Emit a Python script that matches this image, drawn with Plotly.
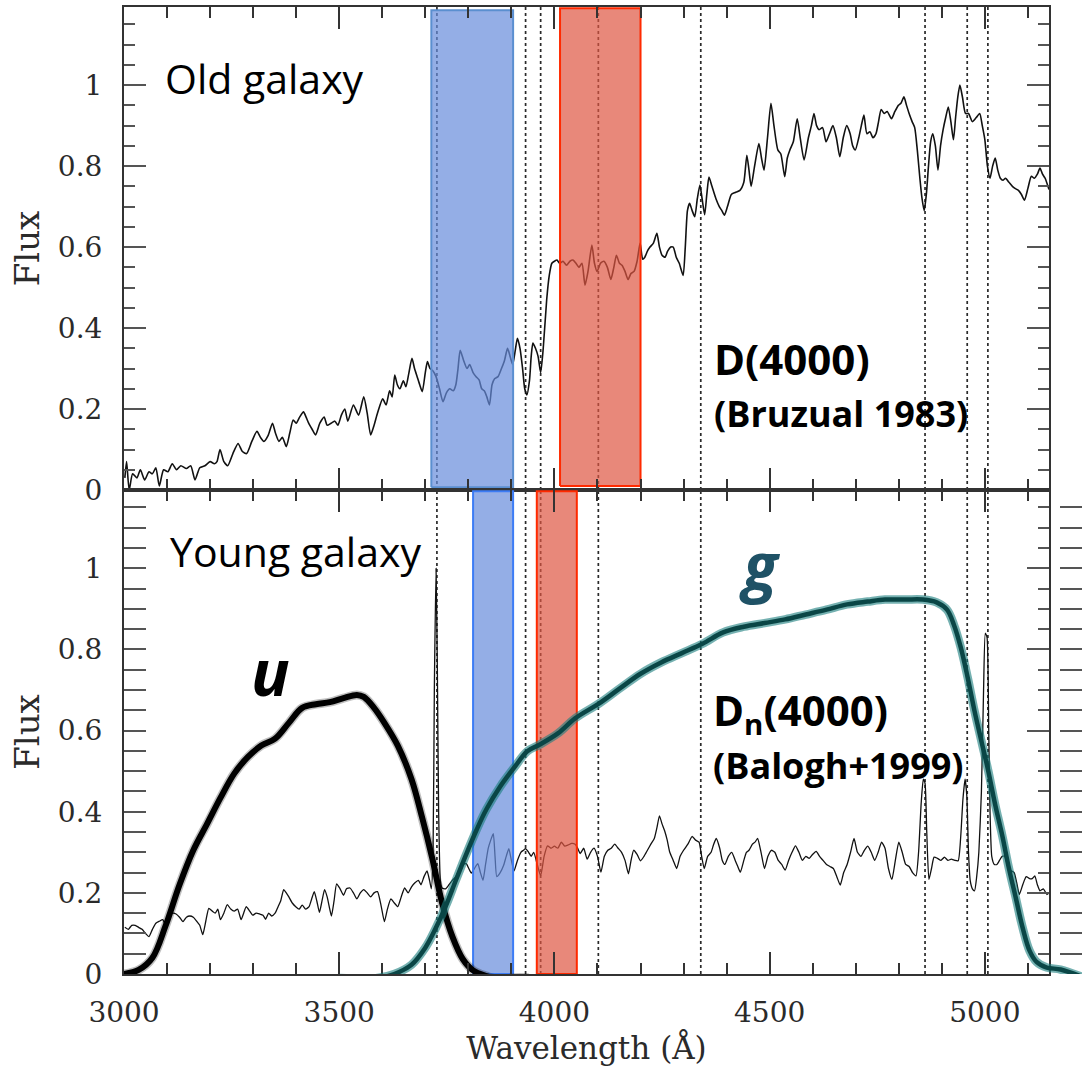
import plotly.graph_objects as go

# ---------------------------------------------------------------- data
# Old (passive) galaxy spectrum: wavelength [A], normalised flux
OLD_WAVE = [3002, 3006, 3012, 3020, 3030, 3038, 3048, 3058, 3066, 3074, 3082, 3092, 3102, 3112, 3122, 3132,
            3145, 3155, 3165, 3176, 3188, 3200, 3210, 3216, 3223, 3232, 3241, 3253, 3265, 3275, 3285, 3297,
            3309, 3317, 3325, 3335, 3345, 3352, 3360, 3368, 3377, 3385, 3393, 3400, 3408, 3417, 3423, 3429,
            3437, 3445, 3455, 3465, 3472, 3481, 3490, 3497, 3505, 3513, 3520, 3533, 3545, 3557, 3565, 3573,
            3581, 3589, 3601, 3609, 3617, 3623, 3629, 3635, 3641, 3649, 3655, 3662, 3669, 3675, 3681, 3687,
            3693, 3700, 3705, 3711, 3717, 3725, 3733, 3741, 3749, 3757, 3765, 3771, 3776, 3781, 3789, 3797,
            3803, 3811, 3818, 3825, 3831, 3837, 3843, 3849, 3855, 3861, 3869, 3877, 3884, 3891, 3897, 3903,
            3909, 3914, 3920, 3926, 3931, 3936, 3942, 3946, 3950, 3956, 3962, 3968, 3974, 3982, 3988, 3994,
            4000, 4006, 4012, 4020, 4028, 4036, 4043, 4050, 4057, 4064, 4071, 4078, 4087, 4093, 4099, 4107,
            4115, 4123, 4131, 4138, 4144, 4151, 4157, 4164, 4171, 4178, 4185, 4192, 4199, 4205, 4210, 4216,
            4222, 4230, 4238, 4244, 4250, 4257, 4263, 4270, 4276, 4283, 4290, 4299, 4304, 4309, 4314, 4320,
            4326, 4332, 4338, 4343, 4349, 4354, 4359, 4366, 4375, 4383, 4389, 4395, 4402, 4411, 4420, 4431,
            4440, 4447, 4452, 4457, 4465, 4475, 4481, 4487, 4495, 4503, 4510, 4519, 4526, 4535, 4541, 4547,
            4555, 4564, 4571, 4580, 4590, 4597, 4603, 4609, 4615, 4623, 4631, 4639, 4647, 4655, 4663, 4671,
            4679, 4687, 4693, 4699, 4707, 4713, 4719, 4726, 4733, 4740, 4747, 4753, 4759, 4766, 4773, 4783,
            4791, 4799, 4805, 4812, 4818, 4824, 4831, 4837, 4843, 4849, 4854, 4859, 4864, 4869, 4874, 4879,
            4885, 4891, 4897, 4903, 4909, 4915, 4921, 4927, 4932, 4937, 4942, 4948, 4955, 4962, 4971, 4980,
            4988, 4994, 5000, 5006, 5012, 5018, 5024, 5030, 5036, 5042, 5048, 5056, 5064, 5070, 5078, 5085,
            5092, 5100, 5108, 5115, 5122, 5128, 5134, 5140, 5149]
OLD_FLUX = [0.03, 0.07, 0.0, 0.04, 0.03, 0.05, 0.025, 0.045, 0.04, 0.055, 0.01, 0.05, 0.045, 0.065, 0.05, 0.06,
            0.053, 0.06, 0.025, 0.055, 0.06, 0.07, 0.065, 0.07, 0.10, 0.07, 0.06, 0.09, 0.115, 0.095, 0.09, 0.12,
            0.145, 0.13, 0.12, 0.135, 0.165, 0.14, 0.12, 0.13, 0.107, 0.14, 0.173, 0.165, 0.18, 0.193, 0.18, 0.165,
            0.15, 0.136, 0.165, 0.18, 0.16, 0.165, 0.17, 0.16, 0.185, 0.2, 0.17, 0.21, 0.185, 0.23, 0.19, 0.136,
            0.16, 0.19, 0.225, 0.21, 0.245, 0.23, 0.284, 0.26, 0.25, 0.27, 0.255, 0.29, 0.325, 0.3, 0.28, 0.26,
            0.243, 0.29, 0.317, 0.3, 0.295, 0.28, 0.25, 0.218, 0.24, 0.25, 0.245, 0.26, 0.3, 0.345, 0.32, 0.3,
            0.31, 0.29, 0.28, 0.272, 0.25, 0.245, 0.23, 0.21, 0.26, 0.275, 0.28, 0.3, 0.32, 0.35, 0.33, 0.31,
            0.345, 0.375, 0.35, 0.3, 0.25, 0.235, 0.27, 0.33, 0.363, 0.35, 0.33, 0.29, 0.35, 0.47, 0.53, 0.56,
            0.565, 0.568, 0.56, 0.565, 0.555, 0.565, 0.568, 0.56, 0.55, 0.56, 0.506, 0.54, 0.605, 0.56, 0.54, 0.56,
            0.565, 0.55, 0.52, 0.55, 0.58, 0.56, 0.555, 0.54, 0.52, 0.535, 0.54, 0.565, 0.61, 0.57, 0.575, 0.59,
            0.6, 0.61, 0.634, 0.6, 0.58, 0.575, 0.59, 0.6, 0.6, 0.575, 0.56, 0.53, 0.6, 0.69, 0.708, 0.69,
            0.675, 0.72, 0.753, 0.72, 0.68, 0.73, 0.773, 0.75, 0.72, 0.7, 0.69, 0.679, 0.7, 0.73, 0.735, 0.74,
            0.76, 0.827, 0.79, 0.75, 0.8, 0.856, 0.82, 0.79, 0.87, 0.955, 0.9, 0.84, 0.83, 0.774, 0.82, 0.84,
            0.86, 0.917, 0.87, 0.815, 0.87, 0.9, 0.93, 0.9, 0.89, 0.895, 0.86, 0.88, 0.9, 0.87, 0.823, 0.87,
            0.9, 0.88, 0.85, 0.84, 0.87, 0.9, 0.926, 0.88, 0.885, 0.87, 0.88, 0.91, 0.94, 0.93, 0.935, 0.917,
            0.935, 0.95, 0.955, 0.971, 0.95, 0.93, 0.91, 0.895, 0.84, 0.77, 0.72, 0.69, 0.73, 0.8, 0.86, 0.88,
            0.85, 0.79, 0.85, 0.89, 0.92, 0.946, 0.91, 0.865, 0.92, 0.97, 1.0, 0.97, 0.93, 0.93, 0.91, 0.92,
            0.93, 0.9, 0.865, 0.8, 0.77, 0.8, 0.82, 0.79, 0.77, 0.765, 0.77, 0.76, 0.75, 0.745, 0.74, 0.73,
            0.716, 0.745, 0.775, 0.77, 0.78, 0.795, 0.78, 0.77, 0.742]

# Young (star-forming) galaxy spectrum
YOUNG_WAVE = [3002, 3010, 3018, 3026, 3034, 3042, 3050, 3058, 3066, 3074, 3082, 3090, 3097, 3105, 3113, 3121,
              3129, 3137, 3145, 3153, 3161, 3169, 3176, 3183, 3190, 3197, 3205, 3212, 3218, 3224, 3232, 3240,
              3248, 3256, 3264, 3272, 3278, 3284, 3292, 3299, 3307, 3315, 3323, 3329, 3336, 3343, 3351, 3358,
              3364, 3371, 3377, 3383, 3391, 3399, 3407, 3414, 3422, 3430, 3436, 3442, 3448, 3454, 3460, 3466,
              3472, 3478, 3482, 3488, 3494, 3502, 3510, 3517, 3525, 3533, 3541, 3549, 3557, 3565, 3573, 3581,
              3589, 3597, 3605, 3612, 3620, 3628, 3636, 3644, 3652, 3660, 3668, 3676, 3684, 3690, 3697, 3704,
              3710, 3714, 3718, 3721, 3725, 3728, 3731, 3735, 3739, 3747, 3755, 3763, 3771, 3779, 3787, 3795,
              3801, 3807, 3814, 3822, 3828, 3834, 3840, 3846, 3852, 3858, 3862, 3866, 3874, 3882, 3888, 3894,
              3900, 3906, 3914, 3922, 3928, 3933, 3940, 3946, 3952, 3960, 3968, 3976, 3984, 3992, 4000, 4008,
              4016, 4024, 4032, 4040, 4048, 4054, 4060, 4068, 4076, 4084, 4092, 4100, 4108, 4116, 4124, 4132,
              4140, 4148, 4156, 4164, 4172, 4178, 4184, 4192, 4200, 4208, 4216, 4224, 4232, 4238, 4244, 4250,
              4256, 4262, 4268, 4276, 4284, 4292, 4300, 4310, 4320, 4328, 4336, 4342, 4348, 4356, 4364, 4370,
              4376, 4384, 4390, 4396, 4404, 4412, 4420, 4426, 4432, 4440, 4446, 4452, 4460, 4466, 4472, 4480,
              4488, 4496, 4504, 4512, 4520, 4528, 4536, 4544, 4552, 4560, 4568, 4576, 4584, 4592, 4600, 4608,
              4616, 4624, 4632, 4640, 4648, 4656, 4664, 4672, 4680, 4688, 4696, 4704, 4712, 4720, 4728, 4736,
              4744, 4752, 4760, 4768, 4776, 4784, 4792, 4800, 4808, 4816, 4824, 4832, 4840, 4846, 4852, 4857,
              4861, 4865, 4870, 4876, 4882, 4890, 4898, 4906, 4914, 4922, 4930, 4938, 4944, 4949, 4954, 4958,
              4962, 4966, 4971, 4976, 4981, 4986, 4992, 4997, 5001, 5005, 5009, 5012, 5016, 5022, 5028, 5034,
              5040, 5046, 5052, 5060, 5068, 5074, 5080, 5088, 5096, 5104, 5110, 5116, 5122, 5128, 5136, 5144,
              5149]
YOUNG_FLUX = [0.115, 0.11, 0.12, 0.12, 0.115, 0.11, 0.1, 0.092, 0.11, 0.125, 0.13, 0.134, 0.12, 0.143, 0.15, 0.148,
              0.14, 0.129, 0.14, 0.143, 0.14, 0.13, 0.12, 0.097, 0.13, 0.162, 0.155, 0.15, 0.16, 0.134, 0.15, 0.171,
              0.16, 0.155, 0.16, 0.134, 0.15, 0.166, 0.155, 0.145, 0.15, 0.148, 0.145, 0.135, 0.15, 0.143, 0.15, 0.166,
              0.18, 0.208, 0.2, 0.19, 0.175, 0.166, 0.16, 0.17, 0.16, 0.166, 0.185, 0.203, 0.18, 0.152, 0.18, 0.208,
              0.19, 0.16, 0.143, 0.18, 0.222, 0.21, 0.194, 0.21, 0.212, 0.2, 0.185, 0.2, 0.208, 0.2, 0.19, 0.2,
              0.203, 0.17, 0.129, 0.16, 0.185, 0.175, 0.166, 0.19, 0.212, 0.2, 0.215, 0.225, 0.231, 0.22, 0.24, 0.254,
              0.23, 0.21, 0.3, 0.7, 1.0, 0.75, 0.4, 0.23, 0.212, 0.21, 0.22, 0.231, 0.24, 0.259, 0.27, 0.272,
              0.26, 0.249, 0.26, 0.272, 0.25, 0.231, 0.27, 0.309, 0.33, 0.346, 0.29, 0.24, 0.25, 0.268, 0.29, 0.309,
              0.28, 0.254, 0.28, 0.3, 0.305, 0.309, 0.3, 0.29, 0.3, 0.27, 0.242, 0.29, 0.316, 0.31, 0.315, 0.31,
              0.325, 0.315, 0.318, 0.322, 0.32, 0.31, 0.297, 0.31, 0.283, 0.3, 0.31, 0.29, 0.251, 0.29, 0.305, 0.31,
              0.32, 0.31, 0.3, 0.28, 0.247, 0.28, 0.305, 0.295, 0.279, 0.29, 0.305, 0.32, 0.334, 0.36, 0.39, 0.37,
              0.353, 0.33, 0.3, 0.28, 0.26, 0.29, 0.305, 0.32, 0.339, 0.33, 0.325, 0.29, 0.26, 0.29, 0.3, 0.32,
              0.334, 0.31, 0.28, 0.27, 0.29, 0.3, 0.28, 0.265, 0.251, 0.28, 0.3, 0.305, 0.32, 0.325, 0.334, 0.3,
              0.26, 0.29, 0.305, 0.3, 0.28, 0.27, 0.256, 0.28, 0.3, 0.316, 0.3, 0.28, 0.29, 0.285, 0.295, 0.302,
              0.29, 0.28, 0.27, 0.265, 0.26, 0.24, 0.219, 0.25, 0.27, 0.3, 0.334, 0.3, 0.29, 0.305, 0.315, 0.3,
              0.28, 0.3, 0.325, 0.31, 0.26, 0.233, 0.28, 0.325, 0.3, 0.27, 0.265, 0.25, 0.242, 0.3, 0.42, 0.48,
              0.47, 0.35, 0.233, 0.26, 0.288, 0.285, 0.28, 0.288, 0.28, 0.283, 0.28, 0.279, 0.34, 0.43, 0.48, 0.44,
              0.3, 0.23, 0.21, 0.205, 0.24, 0.3, 0.45, 0.7, 0.84, 0.83, 0.6, 0.4, 0.29, 0.27, 0.27, 0.28,
              0.29, 0.29, 0.27, 0.255, 0.25, 0.225, 0.196, 0.22, 0.24, 0.235, 0.235, 0.242, 0.22, 0.205, 0.21, 0.196,
              0.2]

# SDSS u and g filter transmission curves (arbitrary scaling)
U_WAVE = [3000, 3034, 3066, 3097, 3129, 3161, 3193, 3224, 3256, 3288, 3319, 3351, 3383, 3414, 3446, 3478,
          3510, 3541, 3557, 3581, 3605, 3636, 3668, 3692, 3716, 3739, 3763, 3787, 3811, 3842, 3874, 3906, 3940]
U_RESP = [0.0, 0.01, 0.04, 0.12, 0.22, 0.305, 0.37, 0.434, 0.494, 0.535, 0.563, 0.58, 0.619, 0.656, 0.665, 0.67,
          0.68, 0.688, 0.683, 0.656, 0.619, 0.563, 0.48, 0.388, 0.286, 0.175, 0.092, 0.037, 0.009, -0.005, -0.014, -0.009,
          -0.009]
G_WAVE = [3500, 3549, 3589, 3628, 3668, 3700, 3723, 3747, 3771, 3795, 3819, 3842, 3874, 3906, 3937, 3965,
          4008, 4048, 4104, 4152, 4200, 4248, 4296, 4344, 4392, 4440, 4488, 4536, 4584, 4632, 4680, 4728,
          4768, 4816, 4856, 4888, 4912, 4928, 4944, 4960, 4976, 4992, 5008, 5024, 5040, 5056, 5072, 5088,
          5104, 5120, 5144, 5176, 5226]
G_RESP = [-0.01, -0.011, -0.01, 0.0, 0.023, 0.065, 0.11, 0.166, 0.231, 0.295, 0.355, 0.406, 0.462, 0.508, 0.549, 0.565,
          0.593, 0.63, 0.667, 0.704, 0.74, 0.768, 0.791, 0.814, 0.842, 0.856, 0.865, 0.874, 0.886, 0.898, 0.911, 0.918,
          0.923, 0.923, 0.923, 0.916, 0.898, 0.861, 0.805, 0.731, 0.648, 0.574, 0.5, 0.417, 0.343, 0.26, 0.187, 0.113,
          0.057, 0.03, 0.016, 0.011, -0.007]

# Spectral features marked with dotted lines: [OII], Ca K, Ca H, Hdelta, Hgamma, Hbeta, [OIII], [OIII]
LINE_WAVES = [3727, 3933, 3968, 4102, 4340, 4861, 4959, 5007]

# Continuum windows of the break indices (blue, red)
D4000_BLUE = [3714, 3904]
D4000_RED = [4013, 4200]
DN4000_BLUE = [3811, 3904]
DN4000_RED = [3959, 4052]

# ---------------------------------------------------------------- layout geometry
W, H = 1082, 1066
ML, MR, MT, MB = 124, 0, 7, 92
X_RANGE = [3000, 5149]
Y_RANGE = [0, 1.193]
PX_PER_A = 925 / (X_RANGE[1] - X_RANGE[0])
plot_w = W - ML - MR
XD = 925 / plot_w                       # framed panels end before the page edge
X_WIDE = [X_RANGE[0], X_RANGE[0] + plot_w / PX_PER_A]
Y_SPLIT = (974 - 490) / (H - MT - MB)

AX = "#333333"
SERIF = "DejaVu Serif"
SANS = "Open Sans"

fig = go.Figure()

# dotted line markers for the spectral features, in both panels
shapes = []
for yref in ("y domain", "y2 domain"):
    xref = "x" if yref == "y domain" else "x2"
    for lw in LINE_WAVES:
        shapes.append(dict(type="line", xref=xref, yref=yref, x0=lw, x1=lw, y0=0, y1=1,
                           line=dict(color="#2a2a2a", width=1.7, dash="dot"), layer="below"))

# spectra
fig.add_trace(go.Scatter(x=OLD_WAVE, y=OLD_FLUX, xaxis="x", yaxis="y", mode="lines",
                         line=dict(color="#111111", width=1.6, shape="spline", smoothing=0.6),
                         showlegend=False, hoverinfo="skip"))
fig.add_trace(go.Scatter(x=YOUNG_WAVE, y=YOUNG_FLUX, xaxis="x2", yaxis="y2", mode="lines",
                         line=dict(color="#111111", width=1.3, shape="spline", smoothing=0.5),
                         showlegend=False, hoverinfo="skip"))


def band(win, xa, ya, y0, y1, fill, edge):
    return go.Scatter(x=[win[0], win[1], win[1], win[0], win[0]], y=[y0, y0, y1, y1, y0],
                      xaxis=xa, yaxis=ya, mode="lines", fill="toself", fillcolor=fill,
                      line=dict(color=edge, width=2), showlegend=False, hoverinfo="skip")


BLUE_FILL = "rgba(102,139,219,0.70)"
RED_FILL = "rgba(222,86,65,0.70)"
fig.add_trace(band(D4000_BLUE, "x", "y", 0.007, 1.185, BLUE_FILL, "#5b8fd0"))
fig.add_trace(band(D4000_RED, "x", "y", 0.01, 1.19, RED_FILL, "#ff2a00"))
fig.add_trace(band(DN4000_BLUE, "x2", "y2", 0.0, 1.19, BLUE_FILL, "#3c7cf5"))
fig.add_trace(band(DN4000_RED, "x2", "y2", 0.0, 1.19, RED_FILL, "#ff2a00"))

# u filter (soft halo + core)
fig.add_trace(go.Scatter(x=U_WAVE, y=U_RESP, xaxis="x2", yaxis="y2", mode="lines",
                         line=dict(color="rgba(0,0,0,0.25)", width=9, shape="spline"),
                         showlegend=False, hoverinfo="skip"))
fig.add_trace(go.Scatter(x=U_WAVE, y=U_RESP, xaxis="x2", yaxis="y2", mode="lines",
                         line=dict(color="black", width=6, shape="spline"),
                         showlegend=False, hoverinfo="skip"))
# g filter on a wider, hidden axis so it runs on past the frame
fig.add_trace(go.Scatter(x=G_WAVE, y=G_RESP, xaxis="x3", yaxis="y2", mode="lines",
                         line=dict(color="rgba(25,125,125,0.6)", width=8.5, shape="spline"),
                         showlegend=False, hoverinfo="skip"))
fig.add_trace(go.Scatter(x=G_WAVE, y=G_RESP, xaxis="x3", yaxis="y2", mode="lines",
                         line=dict(color="#0a4646", width=4.5, shape="spline"),
                         showlegend=False, hoverinfo="skip"))
# small ink blot on the left frame
fig.add_trace(go.Scatter(x=[2996], y=[0.632], xaxis="x2", yaxis="y2", mode="markers", cliponaxis=False,
                         marker=dict(color="black", size=7), showlegend=False, hoverinfo="skip"))

xcommon = dict(range=X_RANGE, domain=[0, XD], showline=True, linecolor=AX, linewidth=2,
               mirror="allticks", ticks="inside", ticklen=22, tickwidth=1.6, tickcolor=AX,
               tick0=3000, dtick=500, showgrid=False, zeroline=False,
               minor=dict(ticks="inside", dtick=100, ticklen=11, tickwidth=1.6, tickcolor=AX))
ycommon = dict(range=Y_RANGE, showline=True, linecolor=AX, linewidth=2,
               mirror="allticks", ticks="inside", ticklen=22, tickwidth=2, tickcolor="#555555",
               tick0=0, dtick=0.2, showgrid=False, zeroline=False,
               tickfont=dict(family=SERIF, size=28, color="#2a2a2a"), ticklabelstandoff=14,
               minor=dict(ticks="inside", dtick=0.05, ticklen=11, tickwidth=2, tickcolor="#555555"),
               title=dict(text="Flux", font=dict(family=SERIF, size=34, color="#2a2a2a"), standoff=8))

fig.update_layout(
    width=W, height=H, margin=dict(l=ML, r=MR, t=MT, b=MB, autoexpand=False),
    paper_bgcolor="white", plot_bgcolor="rgba(0,0,0,0)",
    showlegend=False,
    xaxis=dict(xcommon, anchor="y", showticklabels=False),
    yaxis=dict(ycommon, domain=[Y_SPLIT, 1], anchor="x"),
    xaxis2=dict(xcommon, anchor="y2", showticklabels=True,
                tickfont=dict(family=SERIF, size=28, color="#2a2a2a"), ticklabelstandoff=12,
                title=dict(text="Wavelength (Å)", font=dict(family=SERIF, size=31, color="#2a2a2a"),
                           standoff=16)),
    yaxis2=dict(ycommon, domain=[0, Y_SPLIT], anchor="x2"),
    xaxis3=dict(range=X_WIDE, domain=[0, 1], anchor="y2", visible=False, showgrid=False, zeroline=False),
    shapes=shapes,
)

ann = [
    dict(x=3091, y=1.017, xref="x", yref="y", text="Old galaxy", xanchor="left", yanchor="middle",
         font=dict(family=SANS, size=41, color="black")),
    dict(x=4366, y=0.326, xref="x", yref="y", text="<b>D(4000)</b>", xanchor="left", yanchor="middle",
         font=dict(family=SANS, size=42, color="black")),
    dict(x=4366, y=0.188, xref="x", yref="y", text="<b>(Bruzual 1983)</b>", xanchor="left", yanchor="middle",
         font=dict(family=SANS, size=36, color="black")),
    dict(x=3102, y=1.042, xref="x2", yref="y2", text="Young galaxy", xanchor="left", yanchor="middle",
         font=dict(family=SANS, size=41, color="black")),
    dict(x=4364, y=0.645, xref="x2", yref="y2", text="<b>D<sub>n</sub>(4000)</b>", xanchor="left",
         yanchor="middle", font=dict(family=SANS, size=42, color="black")),
    dict(x=4364, y=0.514, xref="x2", yref="y2", text="<b>(Balogh+1999)</b>", xanchor="left", yanchor="middle",
         font=dict(family=SANS, size=36, color="black")),
    dict(x=3341, y=0.745, xref="x2", yref="y2", text="<b><i>u</i></b>", xanchor="center", yanchor="middle",
         font=dict(family=SANS, size=64, color="black")),
    dict(x=4478, y=1.01, xref="x2", yref="y2", text="<b><i>g</i></b>", xanchor="center", yanchor="middle",
         font=dict(family=SANS, size=64, color="#1f5266")),
]
for a in ann:
    a["showarrow"] = False
fig.update_layout(annotations=ann)

fig.write_html("out.html")
